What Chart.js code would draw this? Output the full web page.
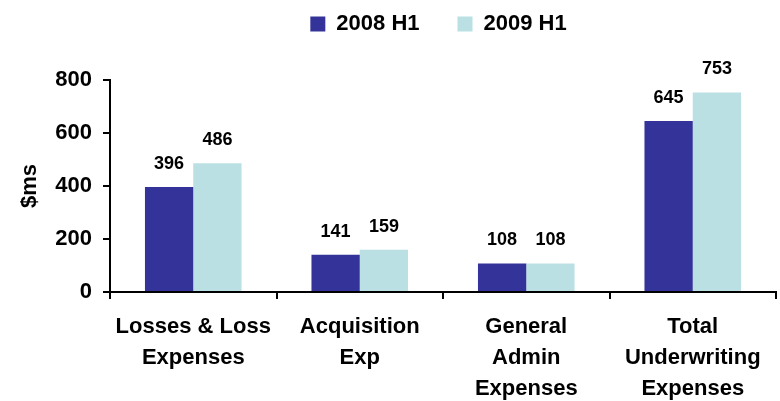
<!DOCTYPE html>
<html><head><meta charset="utf-8">
<script src="https://cdn.jsdelivr.net/npm/chart.js@4/dist/chart.umd.min.js"></script>
<style>html,body{margin:0;padding:0;background:#fff}#wrap{width:780px;height:401px}</style>
</head><body><div id="wrap"><canvas id="c"></canvas></div>
<script>
const categories = [["Losses & Loss","Expenses"],["Acquisition","Exp"],["General","Admin","Expenses"],["Total","Underwriting","Expenses"]];
const series2008 = [396, 141, 108, 645];
const series2009 = [486, 159, 108, 753];
const yTicks = [0, 200, 400, 600, 800];

const FONT = "'Liberation Sans', Arial, sans-serif";

const valueLabels = {
  id: 'valueLabels',
  afterDatasetsDraw(chart) {
    const ctx = chart.ctx;
    ctx.save();
    ctx.font = "bold 18px " + FONT;
    ctx.fillStyle = '#000';
    ctx.textAlign = 'center';
    ctx.textBaseline = 'alphabetic';
    chart.data.datasets.forEach((ds, i) => {
      chart.getDatasetMeta(i).data.forEach((bar, j) => {
        ctx.fillText(String(ds.data[j]), bar.x, bar.y - 18);
      });
    });
    ctx.restore();
  }
};

// Keep the legend's wide item spacing while placing it near the top.
const legendPlace = {
  id: 'legendPlace',
  beforeInit(chart) {
    const lg = chart.legend;
    if (!lg) return;
    const fit = lg.fit;
    lg.fit = function () { fit.call(this); this.height = 80; };
    const draw = lg.draw;
    lg.draw = function () {
      const t = this.top, l = this.left, r = this.right;
      this.top = t - 25; this.left = l + 42; this.right = r + 42;
      draw.call(this);
      this.top = t; this.left = l; this.right = r;
    };
  }
};

new Chart(document.getElementById('c'), {
  type: 'bar',
  data: {
    labels: categories,
    datasets: [
      { label: '2008 H1', data: series2008, backgroundColor: '#333399' },
      { label: '2009 H1', data: series2009, backgroundColor: '#BBE0E3' }
    ]
  },
  plugins: [valueLabels, legendPlace],
  options: {
    responsive: true,
    maintainAspectRatio: false,
    animation: false,
    layout: { padding: { top: 0, right: 4, left: 17, bottom: 0 } },
    datasets: { bar: { categoryPercentage: 0.58, barPercentage: 1.0 } },
    plugins: {
      legend: {
        position: 'top',
        labels: { font: { family: FONT, size: 22, weight: 'bold' }, color: '#000', boxWidth: 15, boxHeight: 15, padding: 38 }
      },
      tooltip: { enabled: false }
    },
    scales: {
      x: {
        grid: { display: true, drawOnChartArea: false, offset: true, color: '#000', tickLength: 7, lineWidth: 2 },
        border: { display: true, color: '#000', width: 2 },
        ticks: { font: { family: FONT, size: 22, weight: 'bold', lineHeight: 1.4 }, color: '#000', maxRotation: 0, autoSkip: false, padding: 13 },
        afterFit(s) { s.height = 109; }
      },
      y: {
        min: 0, max: 800,
        afterBuildTicks(s) { s.ticks = yTicks.map(v => ({ value: v })); },
        grid: { display: true, drawOnChartArea: false, color: '#000', tickLength: 7, lineWidth: 2 },
        border: { display: true, color: '#000', width: 2 },
        ticks: { font: { family: FONT, size: 22, weight: 'bold' }, color: '#000', padding: 11 },
        title: { display: true, text: '$ms', font: { family: FONT, size: 22, weight: 'bold' }, color: '#000', padding: { top: 0, bottom: 0 } },
        afterFit(s) { s.width = 93; }
      }
    }
  }
});
</script></body></html>
